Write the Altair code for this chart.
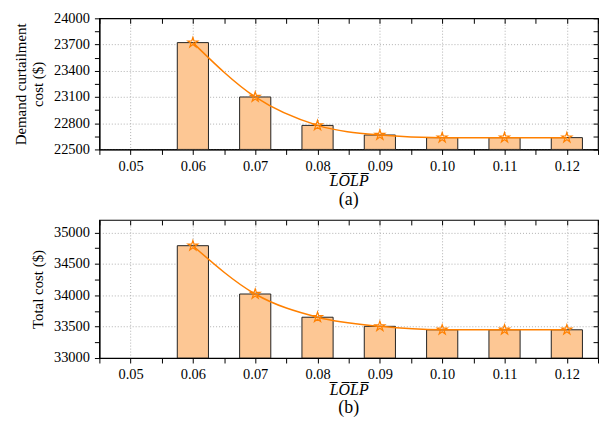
import altair as alt
import pandas as pd

# ---- data ----
lolp = [0.05, 0.06, 0.07, 0.08, 0.09, 0.10, 0.11, 0.12]
curtail = [None, 23722, 23100, 22775, 22665, 22635, 22635, 22635]
total = [None, 34790, 34020, 33650, 33505, 33450, 33450, 33450]

x_ticks = [0.045, 0.05, 0.055, 0.06, 0.065, 0.07, 0.075, 0.08, 0.085,
           0.09, 0.095, 0.10, 0.105, 0.11, 0.115, 0.12, 0.125]
ya_ticks = [22500, 22650, 22800, 22950, 23100, 23250, 23400, 23550,
            23700, 23850, 24000]
yb_ticks = [33000, 33250, 33500, 33750, 34000, 34250, 34500, 34750, 35000]

FONT = "Liberation Serif"
BAR_FILL = "#FDC794"
LINE_COL = "#FF8000"
STAR = ("M0,-1 L0.2245,-0.309 L0.951,-0.309 L0.363,0.118 L0.588,0.809 "
        "L0,0.382 L-0.588,0.809 L-0.363,0.118 L-0.951,-0.309 L-0.2245,-0.309 Z")
XTITLE = "L\u0305O\u0305L\u0305P\u0305"
W = 502


def panel(values, ydom, yticks, major, ytitle, caption, h):
    df = pd.DataFrame({"lolp": lolp, "v": values})
    base = alt.Chart(df).transform_filter("isValid(datum.v)")
    xs = alt.Scale(domain=[0.045, 0.125], nice=False, zero=False)
    ys = alt.Scale(domain=ydom, nice=False, zero=False)

    x_bottom = alt.Axis(
        orient="bottom", values=x_ticks, title=XTITLE,
        labelExpr="round(datum.value*1000) % 10 == 0 ? format(datum.value, '.2f') : ''",
        labelFont=FONT, labelFontSize=14.5, labelColor="black",
        tickSize=5, labelPadding=5, labelFlush=False, labelOverlap=False,
        grid=True, gridDash=[1, 2], gridColor="#b0b0b0",
        gridOpacity={"condition": {"test": "round(datum.value*1000) % 10 == 0", "value": 1}, "value": 0},
        titleFont=FONT, titleFontStyle="italic", titleFontSize=16, titlePadding=0,
    )
    y_left = alt.Axis(
        orient="left", values=yticks, title=ytitle,
        labelExpr=f"datum.value % {major} == 0 ? format(datum.value, 'd') : ''",
        labelFont=FONT, labelFontSize=14.5, labelColor="black",
        tickSize=5, labelPadding=5, labelOverlap=False,
        grid=True, gridDash=[1, 2], gridColor="#b0b0b0",
        gridOpacity={"condition": {"test": f"datum.value % {major} == 0 && datum.value < {ydom[1]}", "value": 1}, "value": 0},
        titleFont=FONT, titleFontSize=15, titlePadding=8, titleLineHeight=17,
    )
    x_top = alt.Axis(orient="top", values=x_ticks, title=None, labels=False,
                     domain=False, grid=False, tickSize=5, offset=-5)
    y_right = alt.Axis(orient="right", values=yticks, title=None, labels=False,
                       domain=False, grid=False, tickSize=5, offset=-5)

    bars = base.transform_calculate(
        x0="datum.lolp - 0.0025", x1="datum.lolp + 0.0025"
    ).mark_bar(fill=BAR_FILL, stroke="#222222", strokeWidth=1, clip=True).encode(
        x=alt.X("x0:Q", scale=xs, axis=x_bottom),
        x2="x1:Q",
        y=alt.Y("v:Q", scale=ys, axis=y_left),
        y2=alt.datum(ydom[0]),
    )
    line = base.mark_line(color=LINE_COL, strokeWidth=1.5, interpolate="monotone").encode(
        x=alt.X("lolp:Q", scale=xs, axis=x_top),
        y=alt.Y("v:Q", scale=ys, axis=y_right),
    )
    pts = base.mark_point(shape=STAR, size=110, filled=False, color=LINE_COL,
                          strokeWidth=1.2, opacity=1).encode(
        x=alt.X("lolp:Q", scale=xs, axis=None),
        y=alt.Y("v:Q", scale=ys, axis=None),
    )
    return alt.layer(bars, line, pts).properties(
        width=W, height=h,
        title=alt.TitleParams(caption, orient="bottom", fontSize=18, font=FONT,
                              fontWeight="normal", offset=2),
    )


top = panel(curtail, [22500, 24000], ya_ticks, 300,
            ["Demand curtailment", "cost ($)"], "(a)", 132)
bottom = panel(total, [33000, 35200], yb_ticks, 500,
               "Total cost ($)", "(b)", 139)

chart = alt.vconcat(top, bottom, spacing=8).properties(
    padding={"left": 5, "top": 0, "right": 0, "bottom": 0}
).configure_view(
    stroke="black", strokeWidth=1.2
).configure_axis(
    labelFont=FONT, titleFont=FONT, labelFontSize=14.5, labelColor="black",
    titleColor="black", titleFontWeight="normal", domainColor="black",
    domainWidth=1.2, tickColor="black", tickWidth=1
).configure_title(font=FONT, color="black")

chart.save("out.html", embed_options={"renderer": "svg", "actions": False})
